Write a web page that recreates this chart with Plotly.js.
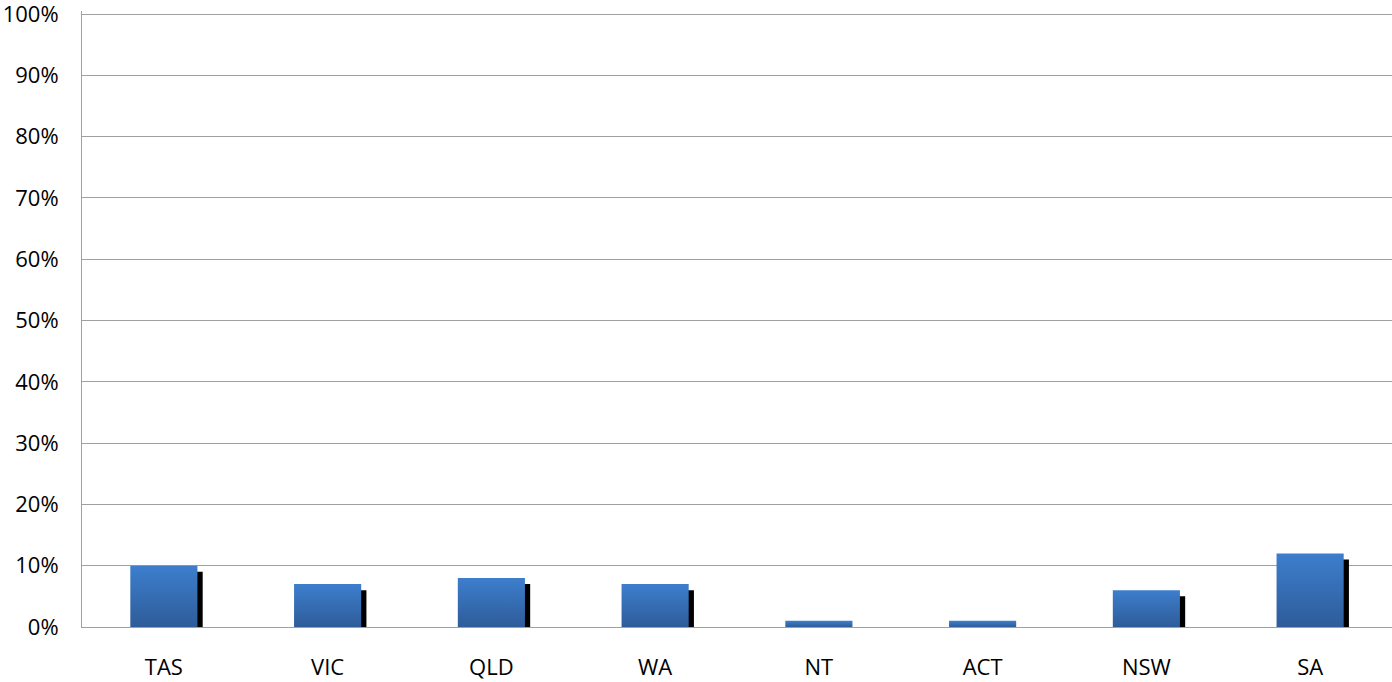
<!DOCTYPE html>
<html>
<head>
<meta charset="utf-8">
<script src="https://cdn.plot.ly/plotly-3.0.1.min.js"></script>
<style>
  html, body { margin: 0; padding: 0; background: #ffffff; }
  #chart { width: 1392px; height: 682px; }
</style>
</head>
<body>
<div id="chart"></div>
<script>
// Data
var categories = ["TAS", "VIC", "QLD", "WA", "NT", "ACT", "NSW", "SA"];
var shares = [0.10, 0.07, 0.08, 0.07, 0.01, 0.01, 0.06, 0.12];
var yTickValues = [0, 0.1, 0.2, 0.3, 0.4, 0.5, 0.6, 0.7, 0.8, 0.9, 1.0];
var yTickLabels = ["0%", "10%", "20%", "30%", "40%", "50%", "60%", "70%", "80%", "90%", "100%"];

// Styling for the bar and its drop shadow
var barWidth = 0.41;
var shadowShiftX = 0.032;   // in category units
var shadowDrop = 0.01;      // drop in value units

var shadowTrace = {
  type: "bar",
  x: categories,
  y: shares,
  base: shares.map(function () { return -shadowDrop; }),
  width: barWidth,
  offset: -barWidth / 2 + shadowShiftX,
  marker: { color: "#000000", line: { width: 0 } },
  hoverinfo: "skip",
  showlegend: false
};

var mainTrace = {
  type: "bar",
  x: categories,
  y: shares,
  width: barWidth,
  offset: -barWidth / 2,
  marker: { color: "#3670b8", line: { width: 0 } },
  showlegend: false
};

var font = { family: "'Open Sans', 'Noto Sans', sans-serif", size: 22, color: "#000000" };

var layout = {
  width: 1392,
  height: 682,
  margin: { l: 82, r: 0, t: 11, b: 55, pad: 0 },
  paper_bgcolor: "#ffffff",
  plot_bgcolor: "#ffffff",
  barmode: "overlay",
  showlegend: false,
  font: font,
  xaxis: {
    type: "category",
    tickfont: font,
    showgrid: false,
    showline: true,
    linecolor: "#a0a0a0",
    linewidth: 1,
    ticks: "",
    ticklabelstandoff: 21,
    ticklabeloverflow: "allow",
    fixedrange: true
  },
  yaxis: {
    range: [0, 1.005],
    tickvals: yTickValues,
    ticktext: yTickLabels,
    tickfont: font,
    showgrid: true,
    gridcolor: "#a0a0a0",
    gridwidth: 1,
    zeroline: false,
    showline: true,
    linecolor: "#a0a0a0",
    linewidth: 1,
    ticks: "",
    ticklabelstandoff: 18,
    ticklabeloverflow: "allow",
    fixedrange: true
  }
};

Plotly.newPlot("chart", [shadowTrace, mainTrace], layout, { staticPlot: true, displayModeBar: false }).then(function (gd) {
  var svg = gd.querySelector(".main-svg");
  var ns = "http://www.w3.org/2000/svg";
  var defs = svg.querySelector("defs");
  if (!defs) { defs = document.createElementNS(ns, "defs"); svg.insertBefore(defs, svg.firstChild); }
  var grad = document.createElementNS(ns, "linearGradient");
  grad.setAttribute("id", "barGrad");
  grad.setAttribute("x1", "0"); grad.setAttribute("y1", "0");
  grad.setAttribute("x2", "0"); grad.setAttribute("y2", "1");
  var s1 = document.createElementNS(ns, "stop");
  s1.setAttribute("offset", "0"); s1.setAttribute("stop-color", "#3d7ecd");
  var s2 = document.createElementNS(ns, "stop");
  s2.setAttribute("offset", "1"); s2.setAttribute("stop-color", "#2e5c99");
  grad.appendChild(s1); grad.appendChild(s2);
  defs.appendChild(grad);
  var traces = gd.querySelectorAll(".barlayer .trace");
  if (traces.length > 1) {
    traces[1].querySelectorAll("path").forEach(function (p) {
      p.style.fill = "url(#barGrad)";
    });
  }
});
</script>
</body>
</html>
